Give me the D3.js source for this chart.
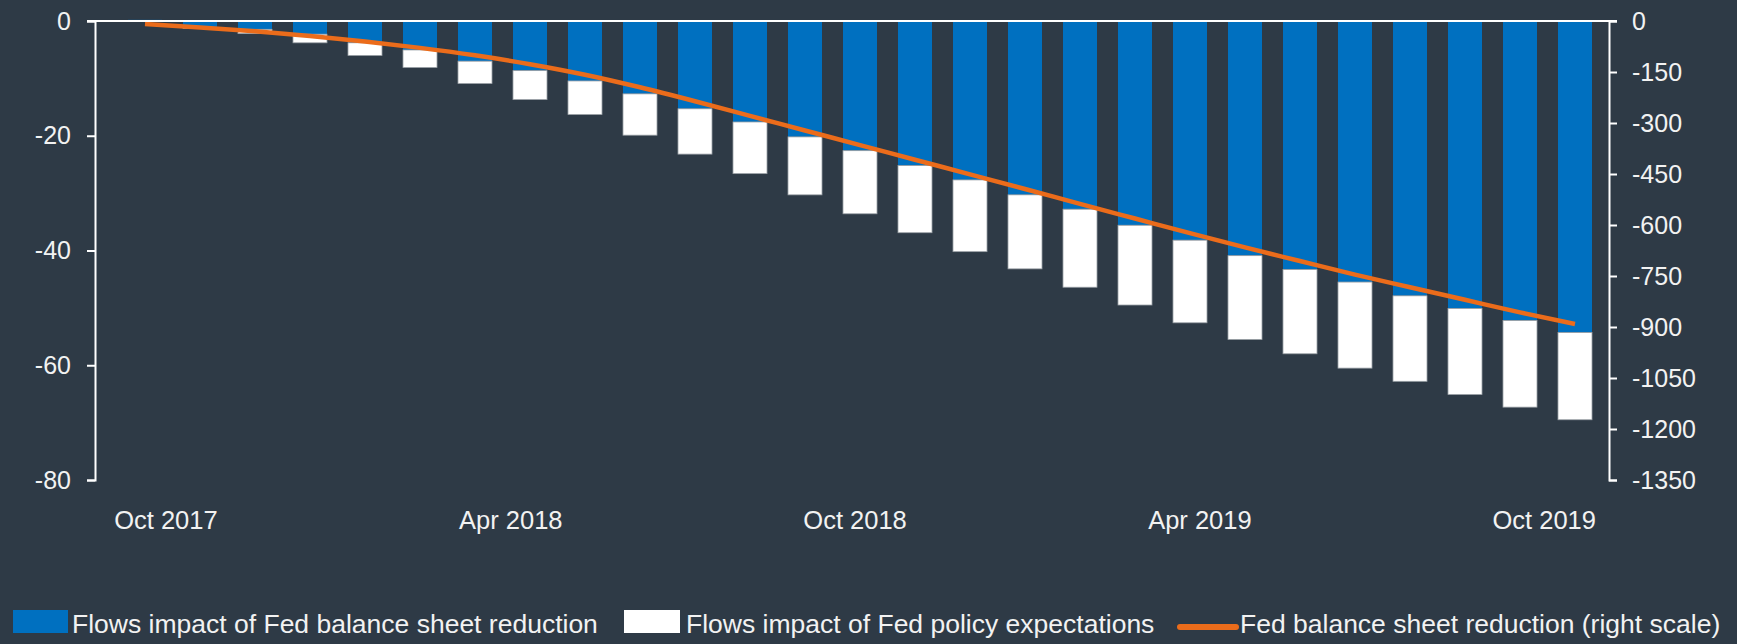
<!DOCTYPE html>
<html>
<head>
<meta charset="utf-8">
<script src="https://d3js.org/d3.v7.min.js"></script>
<style>
body {margin:0; background:#2e3a46;}
text {font-family:"Liberation Sans", Arial, sans-serif; fill:#f2f2f2;}
</style>
</head>
<body>
<svg width=1737 height=644></svg>
<script>
// monthly periods, one bar each
var periods = ["2017-10","2017-11","2017-12","2018-01","2018-02","2018-03","2018-04","2018-05","2018-06",
  "2018-07","2018-08","2018-09","2018-10","2018-11","2018-12","2019-01","2019-02","2019-03",
  "2019-04","2019-05","2019-06","2019-07","2019-08","2019-09","2019-10","2019-11","2019-12"];
// flows impact of balance sheet reduction (left scale)
var balanceFlows = [0.2,-1.2,-1.45,-2.3,-3.8,-5.05,-7.0,-8.65,-10.45,-12.7,-15.3,-17.6,-20.2,-22.6,
  -25.2,-27.7,-30.3,-32.8,-35.6,-38.2,-40.9,-43.3,-45.5,-47.9,-50.1,-52.2,-54.3];
// flows impact of policy expectations (left scale, stacked below)
var policyFlows = [0,-0.1,-0.75,-1.5,-2.2,-3.05,-3.9,-5.05,-5.85,-7.2,-7.9,-9.0,-10.1,-11.0,
  -11.7,-12.5,-12.9,-13.6,-13.9,-14.4,-14.6,-14.7,-15.0,-14.9,-15.0,-15.1,-15.2];
// balance sheet reduction (right scale)
var balanceSheet = [-9,-19,-30,-44,-60,-79,-101,-127,-158,-195,-236,-279,-322,-365,-408,-451,-494,
  -538,-581,-624,-666,-706,-746,-783,-820,-857,-891];

var xTickLabels = ["Oct 2017","Apr 2018","Oct 2018","Apr 2019","Oct 2019"];
var xTickAt = [0.38, 6.65, 12.91, 19.18, 25.44];
var leftTicks = [0,-20,-40,-60,-80];
var rightTicks = [0,-150,-300,-450,-600,-750,-900,-1050,-1200,-1350];
var legendLabels = ["Flows impact of Fed balance sheet reduction","Flows impact of Fed policy expectations","Fed balance sheet reduction (right scale)"];

function draw() {
var blue = "#0070c0", orange = "#eb6c1b";
var plotL = 95, plotR = 1609, plotT = 21, plotB = 480;
var barW = 34;

var svg = d3.select("svg");
svg.append("rect").attr("width",1737).attr("height",644).attr("fill","#2e3a46");

var x = d3.scaleLinear().domain([0, periods.length-1]).range([145, 1575]);
var yL = d3.scaleLinear().domain([-80,0]).range([plotB, plotT]);
var yR = d3.scaleLinear().domain([-1350,0]).range([plotB, plotT]);

var rows = periods.map(function(p,i){ return {i:i, b:balanceFlows[i], p:policyFlows[i], s:balanceSheet[i]}; });

// blue bars
svg.append("g").selectAll("rect").data(rows).enter().append("rect")
  .attr("x", function(d){ return x(d.i)-barW/2; })
  .attr("width", barW)
  .attr("y", function(d){ return yL(Math.max(0,d.b)); })
  .attr("height", function(d){ return Math.abs(yL(d.b)-yL(0)); })
  .attr("fill", blue);

// white bars stacked below
svg.append("g").selectAll("rect").data(rows.filter(function(d){ return d.p<0; })).enter().append("rect")
  .attr("x", function(d){ return x(d.i)-barW/2; })
  .attr("width", barW)
  .attr("y", function(d){ return yL(Math.min(0,d.b)); })
  .attr("height", function(d){ return yL(Math.min(0,d.b)+d.p)-yL(Math.min(0,d.b)); })
  .attr("fill", "#ffffff")
  .attr("stroke", "#9aa0a6").attr("stroke-width", 0.8);

// line on right scale
svg.append("path").datum(rows)
  .attr("fill","none").attr("stroke",orange).attr("stroke-width",4.5)
  .attr("d", d3.line().x(function(d){ return x(d.i); }).y(function(d){ return yR(d.s); }).curve(d3.curveMonotoneX));

// axes
var fmt = function(d){ return String(d); };
var gL = svg.append("g").attr("transform","translate("+plotL+",0)")
  .call(d3.axisLeft(yL).tickValues(leftTicks).tickFormat(fmt).tickSize(8).tickSizeOuter(8).tickPadding(16));
var gR = svg.append("g").attr("transform","translate("+plotR+",0)")
  .call(d3.axisRight(yR).tickValues(rightTicks).tickFormat(fmt).tickSize(8).tickSizeOuter(8).tickPadding(15));
[gL,gR].forEach(function(g){
  g.selectAll("path,line").attr("stroke","#ffffff").attr("stroke-width",2);
  g.selectAll("text").attr("font-size",25).attr("fill","#f2f2f2").attr("font-family","Liberation Sans, Arial, sans-serif");
});

// zero line
svg.append("line").attr("x1",plotL-8).attr("x2",plotR+8).attr("y1",yL(0)).attr("y2",yL(0))
  .attr("stroke","#ffffff").attr("stroke-width",2);

// x labels
svg.append("g").selectAll("text").data(xTickLabels).enter().append("text")
  .attr("x", function(d,i){ return x(xTickAt[i]); })
  .attr("y", 529)
  .attr("text-anchor","middle")
  .attr("font-size",25.5)
  .text(function(d){ return d; });

// legend
var lg = svg.append("g");
lg.append("rect").attr("x",13).attr("y",610).attr("width",55).attr("height",23).attr("fill",blue);
lg.append("rect").attr("x",624).attr("y",610).attr("width",56).attr("height",23).attr("fill","#ffffff");
lg.append("line").attr("x1",1180).attr("x2",1236).attr("y1",627).attr("y2",627)
  .attr("stroke",orange).attr("stroke-width",6).attr("stroke-linecap","round");
var lx = [72, 686, 1240];
lg.selectAll("text").data(legendLabels).enter().append("text")
  .attr("x", function(d,i){ return lx[i]; })
  .attr("y", 633)
  .attr("font-size",26.5)
  .text(function(d){ return d; });
}
draw();
</script>
</body>
</html>
